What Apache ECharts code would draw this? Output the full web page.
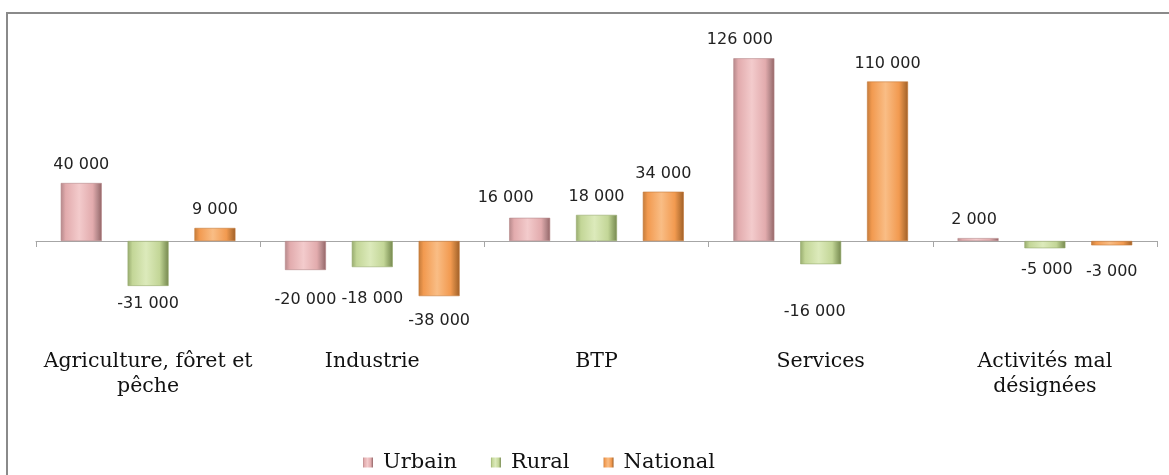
<!DOCTYPE html>
<html>
<head>
<meta charset="utf-8">
<script src="https://cdn.jsdelivr.net/npm/echarts@6/dist/echarts.min.js"></script>
<style>
html,body{margin:0;padding:0;background:#fff;}
#chart{width:1169px;height:475px;}
</style>
</head>
<body>
<div id="chart"></div>
<script>
const categories = ['Agriculture, fôret et\npêche', 'Industrie', 'BTP', 'Services', 'Activités mal\ndésignées'];
const seriesNames = ['Urbain', 'Rural', 'National'];
const urbain = [40000, -20000, 16000, 126000, 2000];
const rural = [-31000, -18000, 18000, -16000, -5000];
const national = [9000, -38000, 34000, 110000, -3000];

// label nudges [dx, dy] by series / category index (layout only)
const labelNudges = {
  Urbain:   {1: [0, 12], 2: [-24, -2], 3: [-14, 0], 4: [-4, 0]},
  Rural:    {1: [0, 14], 3: [-6, 30], 4: [2, 4]},
  National: {1: [0, 7], 4: [0, 8]}
};

const baseColors = {
  Urbain:   ['#e2abad', '#f3cbcc', '#946466', '#b5888a'],
  Rural:    ['#c3d697', '#dceabb', '#76884f', '#97ab6e'],
  National: ['#f29a50', '#f9bd85', '#a05f27', '#c47b3a']
};

function fmt(v) {
  const s = Math.abs(v).toString().replace(/\B(?=(\d{3})+(?!\d))/g, ' ');
  return (v < 0 ? '-' : '') + s;
}

function barStyle(name) {
  const c = baseColors[name];
  return {
    color: {
      type: 'linear', x: 0, y: 0, x2: 1, y2: 0,
      colorStops: [
        {offset: 0, color: c[3]},
        {offset: 0.12, color: c[0]},
        {offset: 0.45, color: c[1]},
        {offset: 0.78, color: c[0]},
        {offset: 0.9, color: c[3]},
        {offset: 1, color: c[2]}
      ]
    },
    borderColor: c[3],
    borderWidth: 0.6
  };
}

const valuesByName = {Urbain: urbain, Rural: rural, National: national};

const series = seriesNames.map(name => ({
  name: name,
  type: 'bar',
  barWidth: 41,
  barGap: '63%',
  itemStyle: barStyle(name),
  data: valuesByName[name].map((v, i) => {
    const n = (labelNudges[name] || {})[i] || [0, 0];
    return {
      value: v,
      label: {
        show: true,
        position: v >= 0 ? 'top' : 'bottom',
        distance: 10,
        offset: n,
        formatter: p => fmt(p.value),
        fontFamily: 'DejaVu Sans',
        fontSize: 16,
        color: '#222'
      }
    };
  })
}));

const chart = echarts.init(document.getElementById('chart'), null, {renderer: 'canvas'});
chart.setOption({
  animation: false,
  backgroundColor: '#fff',
  graphic: [{
    type: 'rect',
    shape: {x: 7, y: 13, width: 1250, height: 600},
    style: {fill: 'none', stroke: '#8a8a8a', lineWidth: 2},
    silent: true,
    z: 100
  }],
  legend: {
    data: seriesNames,
    left: 358,
    top: 447,
    icon: 'rect',
    itemWidth: 10,
    itemHeight: 10,
    itemGap: 34,
    textStyle: {fontFamily: 'DejaVu Serif', fontSize: 21, color: '#111', padding: [0, 0, 0, 5]},
    itemStyle: {borderWidth: 0}
  },
  grid: {left: 36, right: 12, top: 38, bottom: 147, containLabel: false, outerBoundsMode: 'none'},
  xAxis: {
    type: 'category',
    data: categories,
    axisLine: {onZero: true, lineStyle: {color: '#a6a6a6', width: 1}},
    axisTick: {show: true, alignWithLabel: false, length: 6, lineStyle: {color: '#a6a6a6'}},
    axisLabel: {
      margin: 21,
      fontFamily: 'DejaVu Serif',
      fontSize: 20.5,
      lineHeight: 25,
      color: '#111',
      interval: 0
    }
  },
  yAxis: {
    type: 'value',
    min: -60000,
    max: 140000,
    show: false,
    splitLine: {show: false}
  },
  series: series
});
</script>
</body>
</html>
